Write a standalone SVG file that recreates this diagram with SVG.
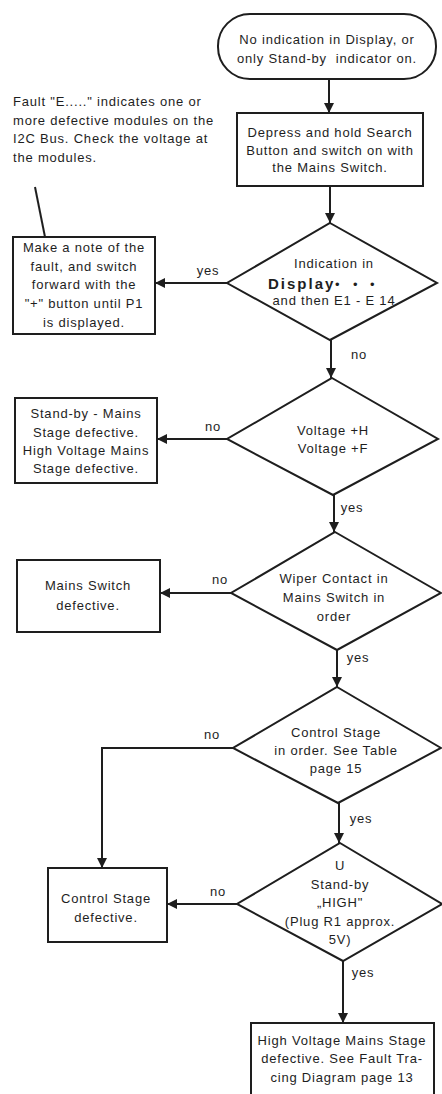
<svg xmlns="http://www.w3.org/2000/svg" width="442" height="1094" viewBox="0 0 442 1094">
<style>
  .shape { fill: #ffffff; stroke: #1e1e1e; stroke-width: 2; }
  .conn { fill: none; stroke: #1e1e1e; stroke-width: 2; }
  text { font-family: "Liberation Sans", Arial, sans-serif; font-size: 13px; letter-spacing: 0.8px; fill: #1e1e1e; }
  .c { text-anchor: middle; }
  .bold { font-weight: bold; font-size: 15px; letter-spacing: 2px; }
</style>
<defs>
  <marker id="arrow" viewBox="0 0 10 10" refX="10" refY="5" markerWidth="10" markerHeight="10" markerUnits="userSpaceOnUse" orient="auto">
    <path d="M0,0 L10,5 L0,10 Z" fill="#1e1e1e"/>
  </marker>
</defs>
<rect width="442" height="1094" fill="#ffffff"/>

<g id="connectors">
  <line class="conn" x1="329" y1="79" x2="329" y2="113" marker-end="url(#arrow)"/>
  <line class="conn" x1="330" y1="186" x2="330" y2="223" marker-end="url(#arrow)"/>
  <line class="conn" x1="227" y1="283" x2="155" y2="283" marker-end="url(#arrow)"/>
  <line class="conn" x1="331" y1="340" x2="331" y2="378" marker-end="url(#arrow)"/>
  <line class="conn" x1="227" y1="439" x2="157" y2="439" marker-end="url(#arrow)"/>
  <line class="conn" x1="334" y1="495" x2="334" y2="532" marker-end="url(#arrow)"/>
  <line class="conn" x1="231" y1="593" x2="160" y2="593" marker-end="url(#arrow)"/>
  <line class="conn" x1="337" y1="650" x2="337" y2="687" marker-end="url(#arrow)"/>
  <polyline class="conn" points="233,748 102,748 102,868" marker-end="url(#arrow)"/>
  <line class="conn" x1="339" y1="803" x2="339" y2="843" marker-end="url(#arrow)"/>
  <line class="conn" x1="237" y1="904" x2="167" y2="904" marker-end="url(#arrow)"/>
  <line class="conn" x1="343" y1="961" x2="343" y2="1023" marker-end="url(#arrow)"/>
  <line class="conn" x1="35" y1="187" x2="45" y2="237"/>
  <text x="208" y="275" class="c">yes</text>
  <text x="359" y="359" class="c">no</text>
  <text x="213" y="431" class="c">no</text>
  <text x="352" y="512" class="c">yes</text>
  <text x="220" y="584" class="c">no</text>
  <text x="358" y="662" class="c">yes</text>
  <text x="212" y="739" class="c">no</text>
  <text x="361" y="823" class="c">yes</text>
  <text x="218" y="896" class="c">no</text>
  <text x="363" y="977" class="c">yes</text>
</g>

<g id="note">
  <text x="13" y="106">Fault "E....." indicates one or</text>
  <text x="13" y="124.5">more defective modules on the</text>
  <text x="13" y="143">I2C Bus. Check the voltage at</text>
  <text x="13" y="162">the modules.</text>
</g>

<g id="start">
  <rect class="shape" x="218" y="14" width="218" height="65" rx="32" ry="32"/>
  <text x="327" y="43.5" class="c">No indication in Display, or</text>
  <text x="327" y="62.5" class="c" xml:space="preserve">only Stand-by  indicator on.</text>
</g>

<g id="depress">
  <rect class="shape" x="237" y="113" width="186" height="73"/>
  <text x="330" y="136.5" class="c">Depress and hold Search</text>
  <text x="330" y="154.5" class="c">Button and switch on with</text>
  <text x="330" y="171.5" class="c">the Mains Switch.</text>
</g>

<g id="decision-display">
  <polygon class="shape" points="330,223 437,283 330,340 227,283"/>
  <text x="334" y="267.5" class="c">Indication in</text>
  <text x="268" y="289"><tspan class="bold">Display</tspan><tspan x="335">•</tspan><tspan x="353">•</tspan><tspan x="370">•</tspan></text>
  <text x="334" y="304.5" class="c">and then E1 - E 14</text>
</g>

<g id="make-note">
  <rect class="shape" x="13" y="237" width="142" height="97"/>
  <text x="84" y="251.5" class="c">Make a note of the</text>
  <text x="84" y="270.5" class="c">fault, and switch</text>
  <text x="84" y="288.5" class="c">forward with the</text>
  <text x="84" y="307.5" class="c">"+" button until P1</text>
  <text x="84" y="326.5" class="c">is displayed.</text>
</g>

<g id="decision-voltage">
  <polygon class="shape" points="332,378 438,439 333,495 227,439"/>
  <text x="333" y="434.5" class="c">Voltage +H</text>
  <text x="333" y="452.5" class="c">Voltage +F</text>
</g>

<g id="standby-defective">
  <rect class="shape" x="15" y="398" width="142" height="85"/>
  <text x="86" y="417.5" class="c">Stand-by - Mains</text>
  <text x="86" y="436.5" class="c">Stage defective.</text>
  <text x="86" y="454.5" class="c">High Voltage Mains</text>
  <text x="86" y="472.5" class="c">Stage defective.</text>
</g>

<g id="decision-wiper">
  <polygon class="shape" points="335,532 441,593 337,650 231,593"/>
  <text x="334" y="582.5" class="c">Wiper Contact in</text>
  <text x="334" y="601.5" class="c">Mains Switch in</text>
  <text x="334" y="620.5" class="c">order</text>
</g>

<g id="mains-switch-defective">
  <rect class="shape" x="17" y="560" width="143" height="72"/>
  <text x="88" y="589.5" class="c">Mains Switch</text>
  <text x="88" y="609.5" class="c">defective.</text>
</g>

<g id="decision-control">
  <polygon class="shape" points="337,687 441,748 338,803 233,748"/>
  <text x="336" y="736.5" class="c">Control Stage</text>
  <text x="336" y="754.5" class="c">in order. See Table</text>
  <text x="336" y="772.5" class="c">page 15</text>
</g>

<g id="control-defective">
  <rect class="shape" x="48" y="868" width="119" height="74"/>
  <text x="106" y="902.5" class="c">Control Stage</text>
  <text x="106" y="921.5" class="c">defective.</text>
</g>

<g id="decision-standby">
  <polygon class="shape" points="340,843 442,904 343,961 237,904"/>
  <text x="340" y="869.5" class="c">U</text>
  <text x="340" y="888.5" class="c">Stand-by</text>
  <text x="340" y="906.5" class="c">„HIGH"</text>
  <text x="340" y="925.5" class="c">(Plug R1 approx.</text>
  <text x="340" y="943.5" class="c">5V)</text>
</g>

<g id="hv-defective">
  <rect class="shape" x="251" y="1023" width="183" height="80"/>
  <text x="342" y="1044.5" class="c">High Voltage Mains Stage</text>
  <text x="342" y="1062.5" class="c">defective. See Fault Tra-</text>
  <text x="342" y="1081.5" class="c">cing Diagram page 13</text>
</g>
</svg>
